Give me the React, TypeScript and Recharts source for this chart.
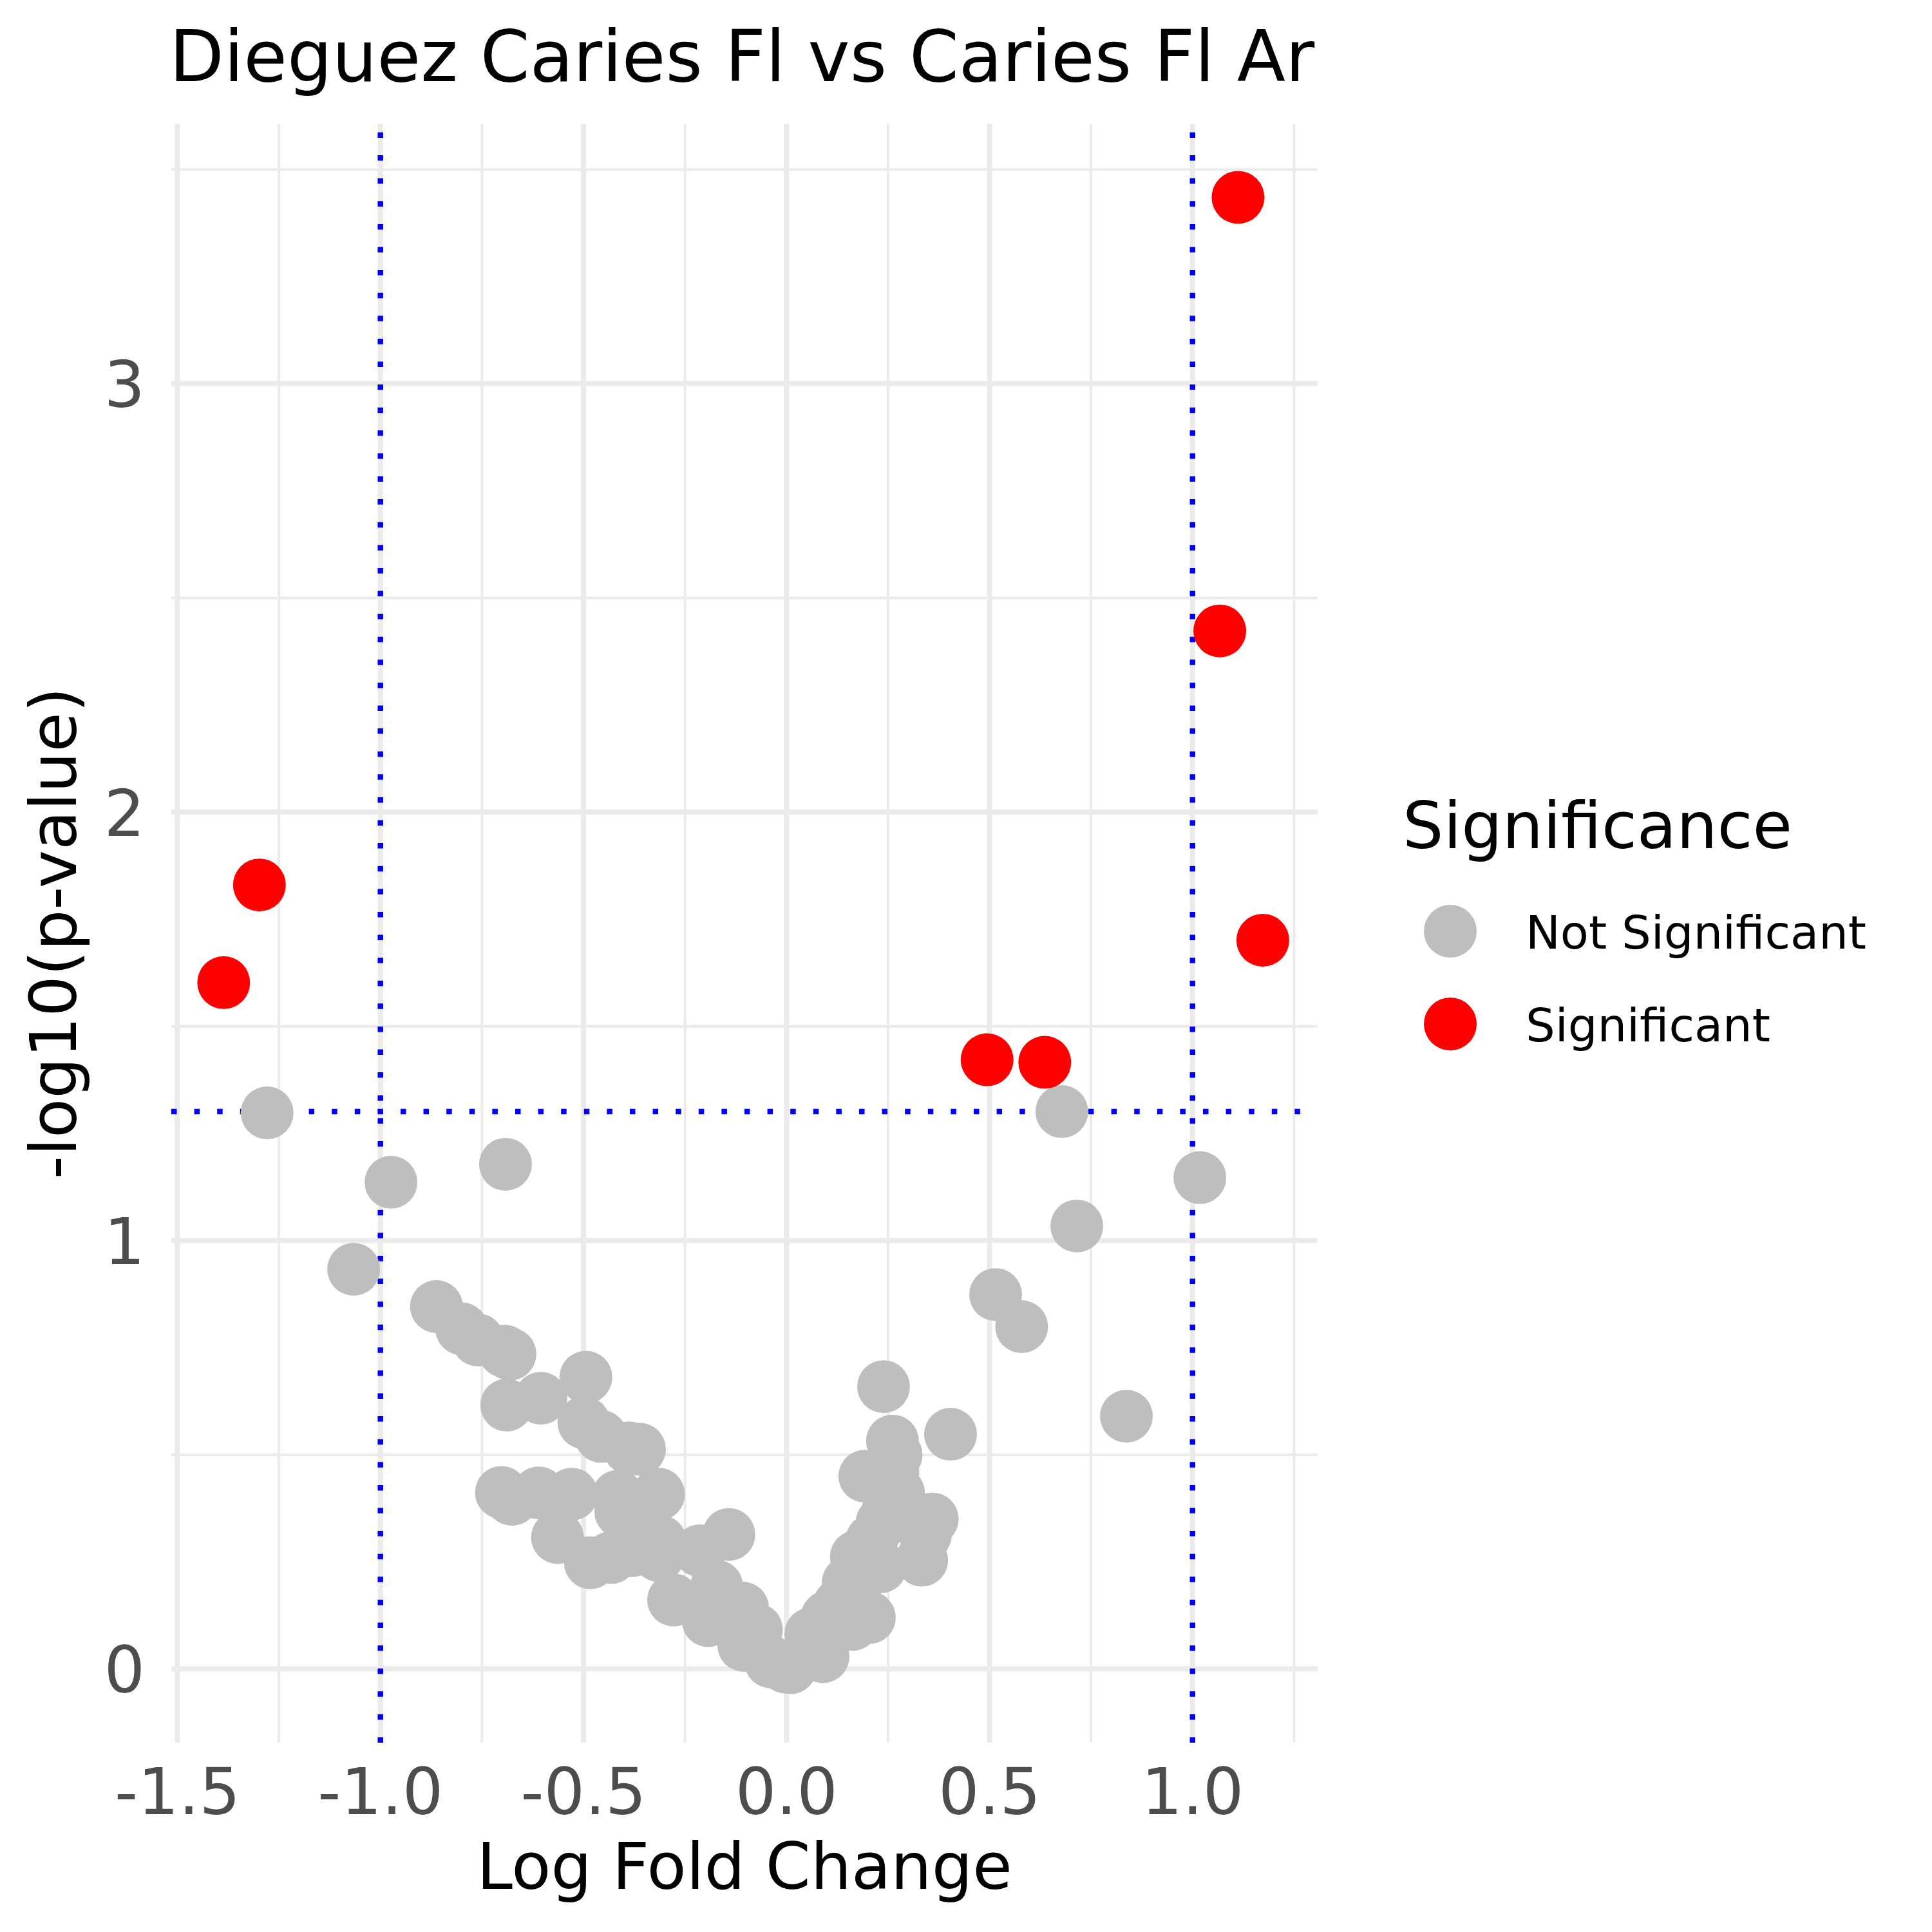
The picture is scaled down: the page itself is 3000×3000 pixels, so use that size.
import React from "react";
import {
  ScatterChart,
  Scatter,
  XAxis,
  YAxis,
  CartesianGrid,
  ReferenceLine,
  Legend,
  Label,
} from "recharts";

// log fold change / -log10(p) of the taxa that did not pass the cutoffs
const notSigLogFC = [
  -1.279, -0.974, -0.692, -1.066, -0.862, -0.8, -0.76, -0.695, -0.681, -0.689,
  -0.605, -0.494, -0.499, -0.457, -0.388, -0.362, -0.702, -0.676, -0.61, -0.529,
  -0.564, -0.415, -0.408, -0.483, -0.432, -0.381, -0.315, -0.311, -0.315, -0.213,
  -0.142, -0.278, -0.193, -0.172, -0.108, -0.105, -0.074, -0.039, -0.003, 0.01,
  0.06, 0.09, 0.098, 0.101, 0.152, 0.162, 0.152, 0.172, 0.183, 0.193,
  0.204, 0.231, 0.235, 0.239, 0.261, 0.262, 0.276, 0.333, 0.342, 0.359,
  0.404, 0.678, 1.018, 0.715, 0.515, 0.579, 0.837, -0.365, 0.21, 0.25,
  0.13, 0.27,
];
const notSigNegLogP = [
  1.298, 1.136, 1.178, 0.933, 0.846, 0.794, 0.768, 0.742, 0.735, 0.616,
  0.632, 0.681, 0.575, 0.543, 0.516, 0.513, 0.412, 0.396, 0.411, 0.408,
  0.307, 0.403, 0.367, 0.248, 0.26, 0.276, 0.408, 0.298, 0.265, 0.276,
  0.314, 0.161, 0.113, 0.193, 0.142, 0.055, 0.092, 0.017, 0.005, 0.003,
  0.082, 0.029, 0.118, 0.122, 0.18, 0.104, 0.202, 0.262, 0.268, 0.45,
  0.12, 0.238, 0.341, 0.659, 0.532, 0.46, 0.411, 0.254, 0.313, 0.35,
  0.548, 1.301, 1.147, 1.034, 0.874, 0.799, 0.59, 0.347, 0.3, 0.37,
  0.15, 0.5,
];

// taxa past the p < 0.05 line
const sigLogFC = [-1.298, -1.386, 0.494, 0.636, 1.067, 1.112, 1.173];
const sigNegLogP = [1.83, 1.602, 1.422, 1.416, 2.423, 3.435, 1.701];

const xTicks = [-1.5, -1.0, -0.5, 0.0, 0.5, 1.0];
const xMinor = [-1.25, -0.75, -0.25, 0.25, 0.75, 1.25];
const yTicks = [0, 1, 2, 3];
const yMinor = [0.5, 1.5, 2.5, 3.5];
const fcCutoffs = [-1, 1];
const pCutoff = -Math.log10(0.05);

const notSigData = notSigLogFC.map((x, i) => ({ x, y: notSigNegLogP[i] }));
const sigData = sigLogFC.map((x, i) => ({ x, y: sigNegLogP[i] }));

const FONT = "DejaVu Sans";
const GREY = "#BEBEBE";
const RED = "#FF0000";
const GRID = "#EBEBEB";

const dot = (fill: string) => (props: any) => (
  <circle cx={props.cx} cy={props.cy} r={41} fill={fill} />
);

const XTick = (props: any) => (
  <text
    x={props.x}
    y={props.y + 111}
    textAnchor="middle"
    fontFamily={FONT}
    fontSize={100}
    fill="#4D4D4D"
  >
    {props.payload.value.toFixed(1)}
  </text>
);

const YTick = (props: any) => (
  <text
    x={props.x - 41}
    y={props.y + 36.5}
    textAnchor="end"
    fontFamily={FONT}
    fontSize={100}
    fill="#4D4D4D"
  >
    {props.payload.value}
  </text>
);

const XTitle = (props: any) => {
  const vb = props.viewBox;
  return (
    <text
      x={vb.x + vb.width / 2}
      y={vb.y + 227}
      textAnchor="middle"
      fontFamily={FONT}
      fontSize={100}
      fill="#000"
    >
      Log Fold Change
    </text>
  );
};

const YTitle = (props: any) => {
  const vb = props.viewBox;
  const cy = vb.y + vb.height / 2;
  return (
    <text
      x={118}
      y={cy}
      transform={`rotate(-90, 118, ${cy})`}
      textAnchor="middle"
      fontFamily={FONT}
      fontSize={100}
      fill="#000"
    >
      -log10(p-value)
    </text>
  );
};

const LegendBox = () => (
  <svg width={850} height={450} style={{ display: "block" }}>
    <text x={28} y={117} fontFamily={FONT} fontSize={100} fill="#000">
      Significance
    </text>
    <circle cx={102} cy={246} r={41} fill={GREY} />
    <text x={219} y={273} fontFamily={FONT} fontSize={72} fill="#000">
      Not Significant
    </text>
    <circle cx={102} cy={390} r={41} fill={RED} />
    <text x={219} y={417} fontFamily={FONT} fontSize={72} fill="#000">
      Significant
    </text>
  </svg>
);

const App = () => {
  return (
    <div style={{ position: "absolute", left: 0, top: 0, width: 3000, height: 3000, background: "#fff" }}>
      <svg
        width={3000}
        height={200}
        style={{ position: "absolute", left: 0, top: 0, pointerEvents: "none", zIndex: 2 }}
      >
        <text x={263} y={126} fontFamily={FONT} fontSize={110} fill="#000">
          Dieguez Caries Fl vs Caries Fl Ar
        </text>
      </svg>
      <ScatterChart
        width={3000}
        height={3000}
        margin={{ top: 192, right: 954, bottom: 0, left: 0 }}
      >
        {/* minor grid first, majors on top */}
        <CartesianGrid
          stroke={GRID}
          strokeWidth={4}
          verticalValues={xMinor}
          horizontalValues={yMinor}
        />
        <CartesianGrid
          stroke={GRID}
          strokeWidth={8}
          verticalValues={xTicks}
          horizontalValues={yTicks}
        />
        <XAxis
          type="number"
          dataKey="x"
          domain={[-1.515, 1.308]}
          allowDataOverflow
          ticks={xTicks}
          height={294}
          axisLine={false}
          tickLine={false}
          tickSize={0}
          tickMargin={0}
          tick={XTick}
        >
          <Label content={XTitle} />
        </XAxis>
        <YAxis
          type="number"
          dataKey="y"
          domain={[-0.172, 3.607]}
          allowDataOverflow
          ticks={yTicks}
          width={266}
          axisLine={false}
          tickLine={false}
          tickSize={0}
          tickMargin={0}
          tick={YTick}
        >
          <Label content={YTitle} />
        </YAxis>
        <Scatter
          name="Not Significant"
          data={notSigData}
          fill={GREY}
          shape={dot(GREY)}
          isAnimationActive={false}
        />
        <Scatter
          name="Significant"
          data={sigData}
          fill={RED}
          shape={dot(RED)}
          isAnimationActive={false}
        />
        {fcCutoffs.map((v) => (
          <ReferenceLine
            key={v}
            x={v}
            stroke="#0000FF"
            strokeWidth={8.5}
            strokeDasharray="8.5 27.1"
          />
        ))}
        <ReferenceLine
          y={pCutoff}
          stroke="#0000FF"
          strokeWidth={8.5}
          strokeDasharray="8.5 27.1"
        />
        <Legend
          layout="vertical"
          align="center"
          verticalAlign="middle"
          wrapperStyle={{ left: 2150, top: 1200, width: 850, height: 450 }}
          content={LegendBox}
        />
      </ScatterChart>
    </div>
  );
};

export default App;
